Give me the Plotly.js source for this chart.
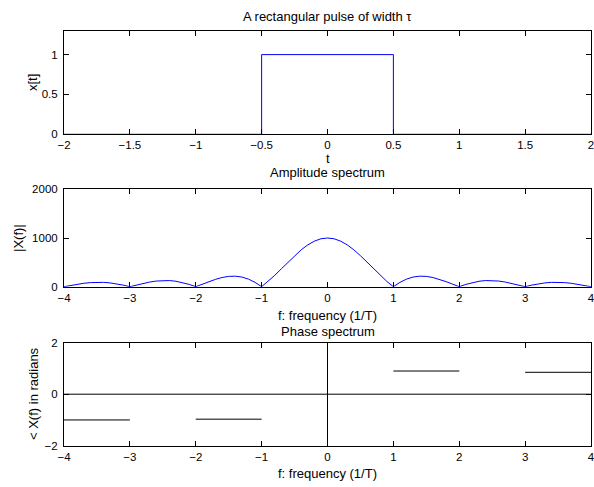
<!DOCTYPE html>
<html>
<head>
<meta charset="utf-8">
<script src="https://cdn.plot.ly/plotly-3.0.1.min.js"></script>
<style>html,body{margin:0;padding:0;background:#fff;}</style>
</head>
<body>
<div id="chart" style="width:594px;height:487px;"></div>
<script>
// Pulse
const pulseT = [-2, -0.5, -0.5, 0.5, 0.5, 2];
const pulseX = [0, 0, 1, 1, 0, 0];

// Amplitude spectrum
const freq = [-4.0,-3.9,-3.8,-3.7,-3.6,-3.5,-3.4,-3.3,-3.2,-3.1,
  -3.0,-2.9,-2.8,-2.7,-2.6,-2.5,-2.4,-2.3,-2.2,-2.1,
  -2.0,-1.9,-1.8,-1.7,-1.6,-1.5,-1.4,-1.3,-1.2,-1.1,
  -1.0,-0.9,-0.8,-0.7,-0.6,-0.5,-0.4,-0.3,-0.2,-0.1,
  0.0,0.1,0.2,0.3,0.4,0.5,0.6,0.7,0.8,0.9,
  1.0,1.1,1.2,1.3,1.4,1.5,1.6,1.7,1.8,1.9,
  2.0,2.1,2.2,2.3,2.4,2.5,2.6,2.7,2.8,2.9,
  3.0,3.1,3.2,3.3,3.4,3.5,3.6,3.7,3.8,3.9,4.0];
const amplitude = [0,25,49,70,84,91,89,78,58,32,
  0,34,67,95,116,127,126,112,85,47,
  0,52,104,151,189,212,216,198,156,89,
  0,109,234,368,505,637,757,858,935,984,
  1000,984,935,858,757,637,505,368,234,109,
  0,89,156,198,216,212,189,151,104,52,
  0,47,85,112,126,127,116,95,67,34,
  0,32,58,78,89,91,84,70,49,25,0];

// Phase spectrum
const phaseX = [-4, -3, null, -2, -1, null, 1, 2, null, 3, 4];
const phaseY = [-1.0, -1.0, null, -0.97, -0.97, null, 0.9, 0.9, null, 0.85, 0.85];
const phaseZeroX = [-4, 4];
const phaseZeroY = [0, 0];
const phaseVertX = [0, 0];
const phaseVertY = [-2, 2];

const tTicks = [-2, -1.5, -1, -0.5, 0, 0.5, 1, 1.5, 2];
const tTickText = ['\u22122','\u22121.5','\u22121','\u22120.5','0','0.5','1','1.5','2'];
const fTicks = [-4, -3, -2, -1, 0, 1, 2, 3, 4];
const fTickText = ['\u22124','\u22123','\u22122','\u22121','0','1','2','3','4'];

const FAM = 'Liberation Sans, Arial, sans-serif';
const TICKFONT = {family: FAM, size: 11.5, color: '#000'};
const LABFONT = {family: FAM, size: 13, color: '#000'};

const traces = [
  {x: pulseT, y: pulseX, xaxis: 'x', yaxis: 'y', mode: 'lines', line: {color: '#0000ff', width: 1}},
  {x: freq, y: amplitude, xaxis: 'x2', yaxis: 'y2', mode: 'lines', line: {color: '#0000ff', width: 1}},
  {x: phaseZeroX, y: phaseZeroY, xaxis: 'x3', yaxis: 'y3', mode: 'lines', line: {color: '#000', width: 1}},
  {x: phaseVertX, y: phaseVertY, xaxis: 'x3', yaxis: 'y3', mode: 'lines', line: {color: '#000', width: 1}},
  {x: phaseX, y: phaseY, xaxis: 'x3', yaxis: 'y3', mode: 'lines', line: {color: '#000', width: 1}, connectgaps: false}
];

const xd = [64/594, 591/594];
function ax(extra) {
  return Object.assign({
    showline: true, linecolor: '#000', linewidth: 1, mirror: 'ticks',
    ticks: 'inside', ticklen: 5, tickcolor: '#000', tickwidth: 1,
    showgrid: false, zeroline: false, tickfont: TICKFONT, fixedrange: true,
    ticklabeloverflow: 'allow', ticklabelstandoff: 0
  }, extra);
}

function ann(text, xpx, ypx, angle) {
  return {text: text, xref: 'paper', yref: 'paper', x: xpx/594, y: 1-ypx/487,
    showarrow: false, font: LABFONT, xanchor: 'center', yanchor: 'middle',
    textangle: angle || 0, borderpad: 0};
}

const layout = {
  width: 594, height: 487,
  margin: {l: 0, r: 0, t: 0, b: 0},
  paper_bgcolor: '#fff', plot_bgcolor: '#fff',
  showlegend: false,
  font: TICKFONT,
  xaxis: ax({domain: xd, anchor: 'y', range: [-2, 2], tickvals: tTicks, ticktext: tTickText}),
  yaxis: ax({domain: [1-134.3/487, 1-30.7/487], anchor: 'x', range: [0, 1.3], tickvals: [0, 0.5, 1], ticklabelstandoff: 3}),
  xaxis2: ax({domain: xd, anchor: 'y2', range: [-4, 4], tickvals: fTicks, ticktext: fTickText}),
  yaxis2: ax({domain: [1-286.7/487, 1-189.3/487], anchor: 'x2', range: [0, 2000], tickvals: [0, 1000, 2000], ticklabelstandoff: 3}),
  xaxis3: ax({domain: xd, anchor: 'y3', range: [-4, 4], tickvals: fTicks, ticktext: fTickText}),
  yaxis3: ax({domain: [1-445.7/487, 1-342.7/487], anchor: 'x3', range: [-2, 2], tickvals: [-2, 0, 2], ticktext: ['\u22122','0','2'], ticklabelstandoff: 3}),
  annotations: [
    ann('A rectangular pulse of width \u03c4', 327.5, 16.5),
    ann('Amplitude spectrum', 327.5, 172.5),
    ann('Phase spectrum', 327.5, 331.5),
    ann('t', 327.5, 158.5),
    ann('f: frequency (1/T)', 327.5, 315),
    ann('f: frequency (1/T)', 327.5, 473),
    ann('x[t]', 32.5, 82.5, -90),
    ann('|X(f)|', 18, 238, -90),
    ann('< X(f) in radians', 33, 394, -90)
  ]
};

Plotly.newPlot('chart', traces, layout, {staticPlot: true, displayModeBar: false});
</script>
</body>
</html>
